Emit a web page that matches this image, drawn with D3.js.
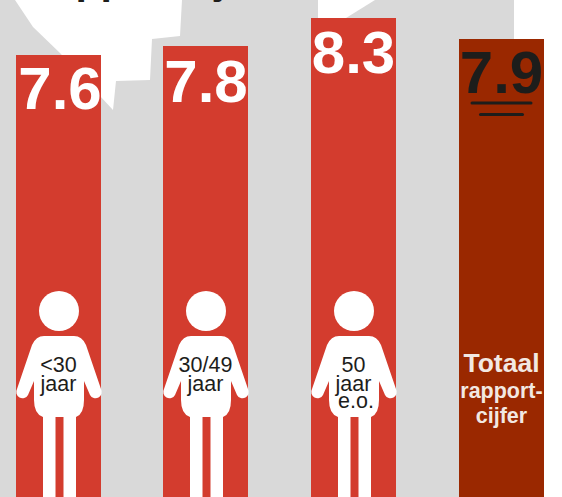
<!DOCTYPE html>
<html><head><meta charset="utf-8">
<script src="https://cdn.jsdelivr.net/npm/d3@7"></script>
<style>html,body{margin:0;padding:0;background:#fff}svg{display:block}</style>
</head><body><div id="c"></div>
<script>
const categories = ["<30 jaar", "30/49 jaar", "50 jaar e.o.", "Totaal"];
const values = [7.6, 7.8, 8.3, 7.9];
const figureLabels = [["<30", "jaar"], ["30/49", "jaar"], ["50", "jaar", "e.o."]];
const totalLabels = ["Totaal", "rapport-", "cijfer"];
const titleText = "Rapportcijfer";

const W = 562, H = 497;
const svg = d3.select("#c").append("svg").attr("width", W).attr("height", H);
const font = "Liberation Sans, Arial, sans-serif";
const ink = "#1d1d1b";

// scales: the picture's bars are not on a zero-based axis, so y is calibrated on the picture
const x = d3.scaleBand().domain(categories).range([16, 544]).paddingInner(0.4244);
const y = d3.scaleLinear().domain([7.6, 7.8, 7.9, 8.3]).range([55, 46, 39, 18]);
const left = c => Math.floor(x(c));
const bw = Math.round(x.bandwidth());

// backdrop
svg.append("rect").attr("width", 514).attr("height", H).attr("fill", "#d9d9d9");
const line = d3.line();
svg.append("path").attr("fill", "#fff")
  .attr("d", line([[15,0],[33,27],[60,53],[113,110],[116,81],[150,80],[152,39],[180,36],[182,0]]) + "Z");
svg.append("path").attr("fill", "#fff")
  .attr("d", line([[318,0],[318,18],[346,18],[375,0]]) + "Z");

// title, cut off by the top edge of the picture
svg.append("text").attr("x", 23).attr("y", -6).attr("font-family", font).attr("font-weight", 700)
  .attr("font-size", 41).attr("fill", ink).text(titleText);

// bars
svg.append("g").selectAll("rect").data(values).join("rect")
  .attr("x", (d,i) => left(categories[i])).attr("width", bw)
  .attr("y", d => y(d)).attr("height", d => H - y(d))
  .attr("fill", (d,i) => i === 3 ? "#9a2800" : "#d33c2e");

// value labels sit a little under each bar top
svg.append("g").selectAll("text").data(values).join("text")
  .attr("x", (d,i) => left(categories[i]) + bw/2 + [1.5, 0.5, 0, 0][i])
  .attr("y", (d,i) => y(d) + [54, 56, 55, 54][i])
  .attr("text-anchor","middle").attr("font-family",font).attr("font-weight",700)
  .attr("font-size",60)
  .attr("fill",(d,i)=> i === 3 ? ink : "#fff")
  .text(d=>d.toFixed(1));

// double rule under total
const cx4 = left(categories[3]) + bw/2;
[[29.5,103],[21,114.5]].forEach(([hw,yy]) =>
  svg.append("line").attr("x1",cx4-hw).attr("x2",cx4+hw).attr("y1",yy).attr("y2",yy)
    .attr("stroke",ink).attr("stroke-width",3).attr("stroke-linecap","round"));

// figures
const people = svg.selectAll("g.p").data(figureLabels).join("g").attr("class","p")
  .attr("transform",(d,i)=>`translate(${left(categories[i]) + bw/2 + 0.5},0)`);
people.append("circle").attr("cy",311).attr("r",20).attr("fill","#fff");
people.append("path").attr("fill","#fff")
  .attr("d","M-15,336 Q-23,336 -27,345 L-42,389 A6 6 0 0 0 -31,395 L-25,381 L-25,400 Q-25,414 -16,417 L-16,497 L-3.5,497 L-3.5,417 L4.5,417 L4.5,497 L17,497 L17,417 Q25,414 25,400 L25,381 L31,395 A6 6 0 0 0 42,389 L27,345 Q23,336 15,336 Z");
people.each(function(d){
  d3.select(this).selectAll("text").data(d).join("text")
    .attr("x",(t,k)=> k === 2 ? 2 : -0.5).attr("y",(t,k)=>[372,391,408][k])
    .attr("text-anchor","middle").attr("font-family",font).attr("font-size",21.5).attr("fill",ink).text(t=>t);
});

// total label
svg.selectAll("text.t").data(totalLabels).join("text").attr("class","t")
  .attr("x",cx4).attr("y",(d,i)=>[372,398,423][i])
  .attr("text-anchor","middle").attr("font-family",font).attr("font-weight",700)
  .attr("font-size",(d,i)=>i === 0 ? 26.5 : 21.5).attr("fill","#f2e8e2").text(d=>d);
</script></body></html>
